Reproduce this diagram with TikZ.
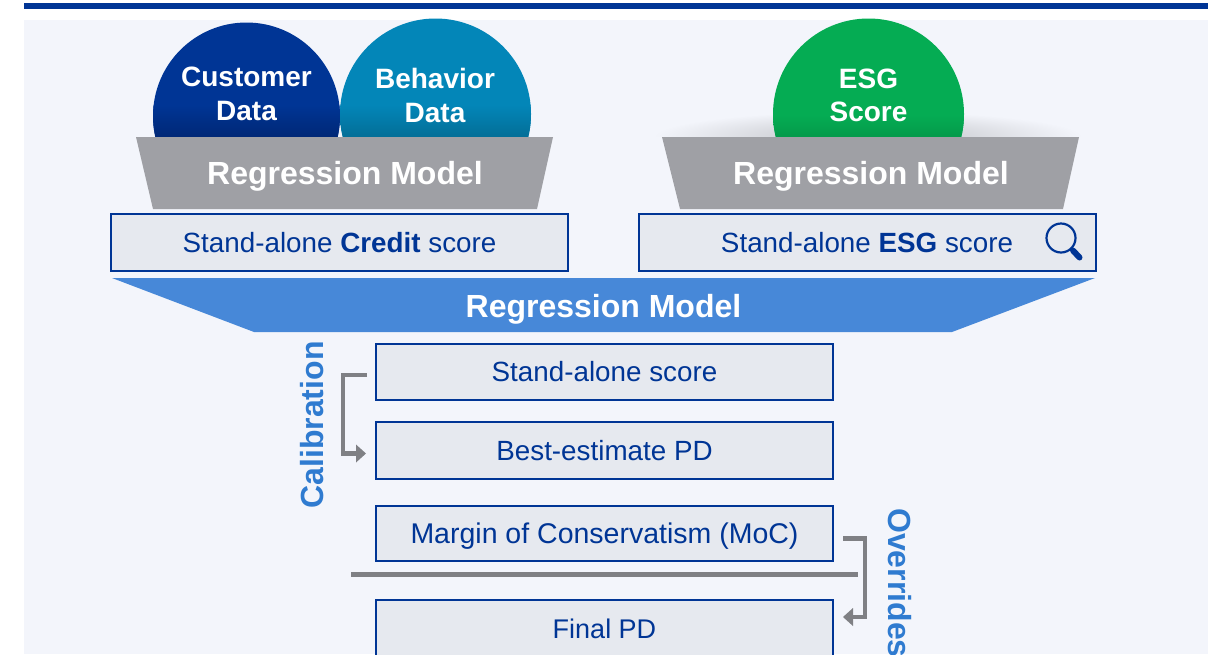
\documentclass[tikz,border=0pt]{standalone}
\usepackage{fontspec}
\setmainfont{Liberation Sans}
\usetikzlibrary{arrows.meta,calc}
\definecolor{navy}{HTML}{003595}
\definecolor{panel}{HTML}{F3F5FB}
\definecolor{boxfill}{HTML}{E6E9EF}
\definecolor{funnelgray}{HTML}{9FA0A5}
\definecolor{funnelblue}{HTML}{4788D8}
\definecolor{labelblue}{HTML}{2F7BD0}
\definecolor{linkgray}{HTML}{7F8084}
\definecolor{custblue}{HTML}{003595}
\definecolor{custdark}{HTML}{00246E}
\definecolor{behblue}{HTML}{0386B8}
\definecolor{behdark}{HTML}{03688F}
\definecolor{esggreen}{HTML}{05AC53}
\definecolor{esgdark}{HTML}{049347}
\tikzset{
  x=1pt,y=-1pt,
  scorebox/.style={draw=navy,line width=2pt,fill=boxfill,anchor=north west,inner sep=0pt,outer sep=0pt,text=navy,font=\fontsize{27.8}{30}\selectfont},
  bubble/.style={text=white,align=center,font=\fontsize{28}{33.5}\selectfont\bfseries,inner sep=0pt},
  modeltext/.style={text=white,font=\fontsize{32}{36}\selectfont\bfseries,inner sep=0pt},
  sidelabel/.style={text=labelblue,font=\fontsize{32}{36}\selectfont\bfseries,inner sep=0pt},
  link/.style={draw=linkgray,line width=4.8pt},
  linktip/.style={fill=linkgray,draw=none},
}
\begin{document}
\begin{tikzpicture}
\useasboundingbox (0,0) rectangle (1217,654);
\clip (0,0) rectangle (1217,654);
\fill[white] (0,0) rectangle (1217,654);
\fill[navy] (24,3) rectangle (1208,8.5);
\fill[panel] (24,20) rectangle (1208,654);

% soft shadow behind ESG trapezoid top
\shade[inner color=black!22!panel,outer color=panel] (868,137) ellipse [x radius=215,y radius=26];
\fill[panel] (600,137) rectangle (1150,214);

% bubbles
\begin{scope}
\clip (0,0) rectangle (1217,137);
\fill[custblue] (246.5,116) circle [radius=93.5];
\begin{scope}
\clip (246.5,116) circle [radius=93.5];
\shade[top color=custblue,bottom color=custdark] (150,105) rectangle (345,145);
\end{scope}
\fill[behblue] (435.5,114) circle [radius=95.5];
\begin{scope}
\clip (435.5,114) circle [radius=95.5];
\shade[top color=behblue,bottom color=behdark] (335,105) rectangle (535,145);
\end{scope}
\fill[esggreen] (868.5,114) circle [radius=95.5];
\begin{scope}
\clip (868.5,114) circle [radius=95.5];
\shade[top color=esggreen,bottom color=esgdark] (770,115) rectangle (970,145);
\end{scope}
\end{scope}
\node[bubble] (cust) at (246.5,94) {Customer\\Data};
\node[bubble] (beh) at (435,95.5) {Behavior\\Data};
\node[bubble] (esg) at (868.5,95.5) {ESG\\Score};

% trapezoids
\fill[funnelgray] (136,137) -- (553,137) -- (537,209) -- (153,209) -- cycle;
\fill[funnelgray] (662,137) -- (1079,137) -- (1063,209) -- (680,209) -- cycle;
\node[modeltext] (rm1) at (345,176) {Regression Model};
\node[modeltext] (rm2) at (871,176) {Regression Model};

% stand-alone boxes
\node[scorebox,minimum width=457pt,minimum height=57pt] (credit) at (111,214) {Stand-alone \textbf{Credit} score};
\node[scorebox,minimum width=457pt,minimum height=57pt] (esgbox) at (638.5,214) {Stand-alone \textbf{ESG} score};
\draw[navy,line width=2.2pt] (1061,238) circle [radius=14.5];
\draw[navy,line width=6pt,line cap=round] (1073,250.5) -- (1079.5,257.5);

% blue funnel
\fill[funnelblue] (112,278) -- (1095,278) -- (952,332) -- (254,332) -- cycle;
\node[modeltext] (rm3) at (603.5,309) {Regression Model};

% lower boxes
\node[scorebox,minimum width=457pt,minimum height=56pt] (sa) at (376,344) {Stand-alone score};
\node[scorebox,minimum width=457pt,minimum height=57pt] (be) at (376,422) {Best-estimate PD};
\node[scorebox,minimum width=457pt,minimum height=55pt,text height=20pt,text depth=0pt,font=\fontsize{28.5}{30}\selectfont] (moc) at (376,506) {Margin of Conservatism (MoC)};
\node[scorebox,minimum width=457pt,minimum height=58pt,font=\fontsize{27}{30}\selectfont] (final) at (376,600) {Final PD};

% rule
\coordinate (ruleL) at (351,574.5);
\coordinate (ruleR) at (858,574.5);
\draw[draw=linkgray,line width=5pt] (ruleL) -- (ruleR);

% calibration connector
\coordinate (calA) at ($(sa.west)+(-9,3)$);
\coordinate (calB) at ($(be.west)+(-20,3)$);
\draw[link] (calA) -- (343,0 |- calA) -- (343,0 |- calB) -- (calB);
\fill[linktip] ($(calB)+(10,0)$) -- ++(-10,-9) -- ++(0,18) -- cycle;

% overrides connector
\coordinate (ovA) at ($(moc.east)+(10,5)$);
\coordinate (ovB) at ($(final.east)+(20,-12)$);
\draw[link] (ovA) -- (865,0 |- ovA) -- (865,0 |- ovB) -- (ovB);
\fill[linktip] ($(ovB)+(-10,0)$) -- ++(10,-9) -- ++(0,18) -- cycle;

\node[sidelabel,rotate=90] (cal) at (312,425) {Calibration};
\node[sidelabel,rotate=-90,anchor=west] (ovr) at (900,508) {Overrides};
\end{tikzpicture}
\end{document}
